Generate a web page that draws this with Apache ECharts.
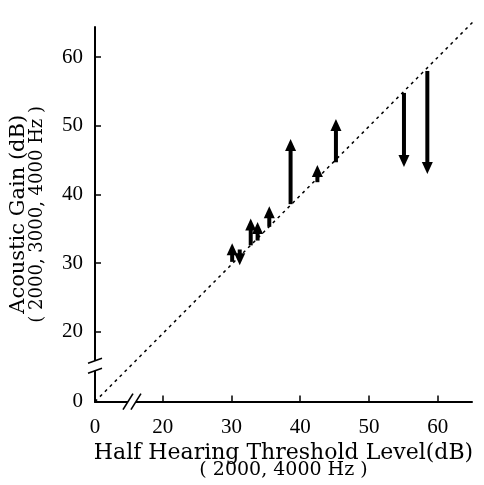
<!DOCTYPE html>
<html>
<head>
<meta charset="utf-8">
<script src="https://cdn.jsdelivr.net/npm/echarts@6/dist/echarts.min.js"></script>
<style>
  html, body { margin: 0; padding: 0; background: #fff; }
  #chart { width: 484px; height: 485px; }
</style>
</head>
<body>
<div id="chart"></div>
<script>
// hearing level on x, gain before -> after on y (arrow tip = gainEnd)
const arrowX    = [30.1, 31.2, 32.8, 33.8, 35.5, 38.6, 42.5, 45.2, 55.1, 58.5];
const gainStart = [30.2, 32.0, 32.6, 33.3, 35.3, 38.6, 41.8, 44.7, 54.8, 58.0];
const gainEnd   = [32.9, 29.7, 36.5, 36.0, 38.3, 48.1, 44.3, 51.0, 44.0, 43.0];
const diagonal  = [[0, 0], [66.5, 66.5]];
const xTicks = [20, 30, 40, 50, 60];
const yTicks = [20, 30, 40, 50, 60];
const xLabels = [0, 20, 30, 40, 50, 60];
const yLabels = [0, 20, 30, 40, 50, 60];
// axis breaks (start, end, gap in data units)
const xBreak = [4.8, 16.1, 1.16];
const yBreak = [4.5, 15.8, 1.45];

const serif = "Liberation Serif";
const nameFont = "DejaVu Serif";

const chart = echarts.init(document.getElementById("chart"));

const arrowData = arrowX.map((x, i) => [x, gainStart[i], gainEnd[i]]);

function renderArrow(params, api) {
  const p0 = api.coord([api.value(0), api.value(1)]);
  const p1 = api.coord([api.value(0), api.value(2)]);
  const dir = p1[1] < p0[1] ? -1 : 1;
  const headH = 12, headW = 5.5;
  const base = p1[1] - dir * headH;
  return {
    type: "group",
    children: [
      {
        type: "line",
        shape: { x1: p0[0], y1: p0[1], x2: p1[0], y2: base + dir * 1 },
        style: { stroke: "#000", lineWidth: 4 },
      },
      {
        type: "polygon",
        shape: { points: [[p1[0], p1[1]], [p1[0] - headW, base], [p1[0] + headW, base]] },
        style: { fill: "#000" },
      },
    ],
  };
}

// the // marks on both axes
function renderBreaks(params, api) {
  const origin = api.coord([0, 0]);
  const xa = api.coord([api.value(0), 0]);
  const xb = api.coord([api.value(1), 0]);
  const ya = api.coord([0, api.value(2)]);
  const yb = api.coord([0, api.value(3)]);
  const ax = origin[1];
  const ay = origin[0];
  const st = { stroke: "#000", lineWidth: 1.6 };
  return {
    type: "group",
    children: [
      { type: "rect", shape: { x: xa[0], y: ax - 3, width: xb[0] - xa[0], height: 6 }, style: { fill: "#fff" } },
      { type: "line", shape: { x1: xa[0] - 5, y1: ax + 8, x2: xa[0] + 5, y2: ax - 8 }, style: st },
      { type: "line", shape: { x1: xb[0] - 5, y1: ax + 8, x2: xb[0] + 5, y2: ax - 8 }, style: st },
      { type: "rect", shape: { x: ay - 3, y: yb[1], width: 6, height: ya[1] - yb[1] }, style: { fill: "#fff" } },
      { type: "line", shape: { x1: ay - 7, y1: ya[1] + 2.5, x2: ay + 7, y2: ya[1] - 2.5 }, style: st },
      { type: "line", shape: { x1: ay - 7, y1: yb[1] + 2.5, x2: ay + 7, y2: yb[1] - 2.5 }, style: st },
    ],
  };
}

const option = {
  animation: false,
  backgroundColor: "#fff",
  grid: { left: 94, right: 12, top: 27, bottom: 83, containLabel: false },
  xAxis: {
    type: "value",
    min: 0,
    max: 65,
    interval: 10,
    breaks: [{ start: xBreak[0], end: xBreak[1], gap: xBreak[2] }],
    breakArea: { show: false },
    splitLine: { show: false },
    axisLine: { lineStyle: { color: "#000", width: 2 } },
    axisTick: { inside: true, length: 6, customValues: xTicks, lineStyle: { color: "#000", width: 1.5 } },
    axisLabel: {
      customValues: xLabels,
      margin: 15,
      color: "#000",
      fontFamily: serif,
      fontSize: 21,
    },
    name: "{a|Half Hearing Threshold Level(dB)}\n{b|( 2000, 4000 Hz )}",
    nameLocation: "middle",
    nameGap: 40,
    nameTextStyle: {
      color: "#000",
      rich: {
        a: { fontFamily: nameFont, fontSize: 22, lineHeight: 17, color: "#000" },
        b: { fontFamily: nameFont, fontSize: 19, lineHeight: 17, color: "#000" },
      },
    },
  },
  yAxis: {
    type: "value",
    min: 0,
    max: 64.4,
    interval: 10,
    breaks: [{ start: yBreak[0], end: yBreak[1], gap: yBreak[2] }],
    breakArea: { show: false },
    splitLine: { show: false },
    axisLine: { lineStyle: { color: "#000", width: 2 } },
    axisTick: { inside: true, length: 6, customValues: yTicks, lineStyle: { color: "#000", width: 1.5 } },
    axisLabel: {
      customValues: yLabels,
      margin: 12,
      color: "#000",
      fontFamily: serif,
      fontSize: 21,
    },
    name: "{a|Acoustic Gain (dB)}\n{b|( 2000, 3000, 4000 Hz )}",
    nameLocation: "middle",
    nameRotate: 90,
    nameGap: 48,
    nameTextStyle: {
      color: "#000",
      rich: {
        a: { fontFamily: nameFont, fontSize: 21, lineHeight: 19, color: "#000" },
        b: { fontFamily: nameFont, fontSize: 18, lineHeight: 19, color: "#000" },
      },
    },
  },
  series: [
    {
      type: "line",
      data: diagonal,
      symbol: "none",
      clip: false,
      silent: true,
      lineStyle: { color: "#000", width: 1.5, type: [3, 4] },
      z: 1,
    },
    {
      type: "custom",
      data: arrowData,
      renderItem: renderArrow,
      clip: false,
      encode: { x: 0, y: [1, 2] },
      z: 3,
    },
    {
      type: "custom",
      data: [[xBreak[0], xBreak[1], yBreak[0], yBreak[1]]],
      renderItem: renderBreaks,
      clip: false,
      silent: true,
      encode: { x: [0, 1], y: [2, 3] },
      z: 5,
    },
  ],
};

chart.setOption(option);
</script>
</body>
</html>
